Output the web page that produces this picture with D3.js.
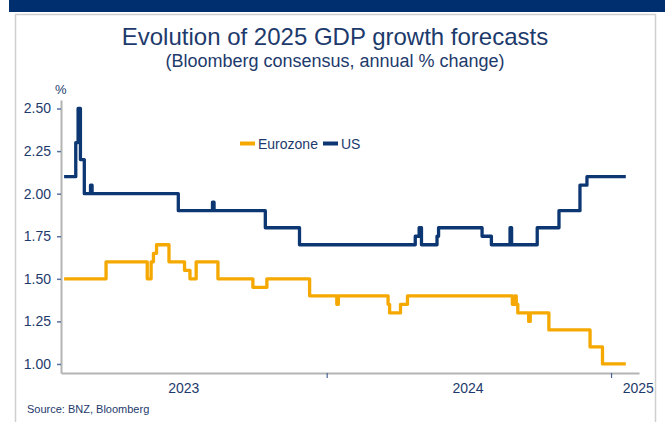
<!DOCTYPE html>
<html>
<head>
<meta charset="utf-8">
<script src="https://cdn.jsdelivr.net/npm/d3@7"></script>
<style>
  html, body { margin: 0; padding: 0; background: #ffffff; }
  svg { display: block; }
  text { font-family: "Liberation Sans", Arial, sans-serif; }
</style>
</head>
<body>
<svg id="chart" width="665" height="422"></svg>
<script>
// Bloomberg consensus forecasts for 2025 GDP growth (%), step changes by date
const usDates = ["2023-01-28","2023-02-12","2023-02-15","2023-02-18","2023-02-23","2023-03-03","2023-03-05",
  "2023-06-24","2023-08-07","2023-08-09","2023-10-14","2023-11-27","2024-04-24","2024-04-29","2024-05-02",
  "2024-05-22","2024-05-24","2024-07-19","2024-07-31","2024-08-24","2024-08-26","2024-09-28","2024-10-26",
  "2024-11-22","2024-12-01","2025-01-20"];
const usValues = [2.10, 2.30, 2.50, 2.20, 2.00, 2.05, 2.00,
  1.90, 1.95, 1.90, 1.80, 1.70, 1.75, 1.80, 1.70,
  1.75, 1.80, 1.75, 1.70, 1.80, 1.70, 1.80, 1.90,
  2.05, 2.10, 2.10];

const euDates = ["2023-01-28","2023-03-23","2023-05-15","2023-05-20","2023-05-23","2023-05-27","2023-06-12",
  "2023-07-02","2023-07-09","2023-07-17","2023-08-14","2023-09-28","2023-10-16","2023-12-10","2024-01-14",
  "2024-01-16","2024-03-20","2024-03-22","2024-04-05","2024-04-14","2024-08-27","2024-08-30","2024-09-01",
  "2024-09-03","2024-09-17","2024-09-19","2024-10-13","2024-12-05","2024-12-21","2025-01-20"];
const euValues = [1.50, 1.60, 1.50, 1.60, 1.65, 1.70, 1.60,
  1.55, 1.50, 1.60, 1.50, 1.45, 1.50, 1.40, 1.35,
  1.40, 1.35, 1.30, 1.35, 1.40, 1.35, 1.40, 1.35,
  1.30, 1.25, 1.30, 1.20, 1.10, 1.00, 1.00];

const yTicks = [1.00, 1.25, 1.50, 1.75, 2.00, 2.25, 2.50];
const yearTicks = ["2024-01-01", "2025-01-01"];
const yearLabels = ["2023", "2024", "2025"];
const yearLabelDates = ["2023-07-01", "2024-07-01", "2025-02-05"];
const seriesNames = ["Eurozone", "US"];

const parse = d3.timeParse("%Y-%m-%d");
const navy = "#0c3773";
const orange = "#f5a800";
const textBlue = "#1d3a6c";

const svg = d3.select("#chart");

// page frame: dark header band and the white card below it
svg.append("rect").attr("x", 9).attr("y", 0).attr("width", 656).attr("height", 12).attr("fill", "#002f6f");
svg.append("path")
  .attr("d", "M15.5,422 V14.5 H655.5 V422")
  .attr("fill", "none").attr("stroke", "#cfcfcf").attr("stroke-width", 1.5);

// titles
svg.append("text").attr("x", 335).attr("y", 45).attr("text-anchor", "middle")
  .attr("font-size", 24).attr("fill", textBlue).text("Evolution of 2025 GDP growth forecasts");
svg.append("text").attr("x", 335).attr("y", 67).attr("text-anchor", "middle")
  .attr("font-size", 18).attr("fill", textBlue).text("(Bloomberg consensus, annual % change)");

const x = d3.scaleTime().domain([parse("2023-01-24"), parse("2025-02-06")]).range([61, 639]);
const y = d3.scaleLinear().domain([0.947, 2.55]).range([373, 100]);

// y axis
const yAxis = svg.append("g").attr("transform", "translate(61,0)")
  .call(d3.axisLeft(y).tickValues(yTicks).tickFormat(d3.format(".2f"))
    .tickSize(4).tickSizeOuter(0).tickPadding(6));
yAxis.select(".domain").attr("stroke", "#b4b4b4").attr("stroke-width", 2);
yAxis.selectAll(".tick line").attr("stroke", "#5a73a0").attr("stroke-width", 1.5);
yAxis.selectAll(".tick text").attr("font-size", 14).attr("fill", textBlue)
  .attr("font-family", "Liberation Sans, Arial, sans-serif");

svg.append("text").attr("x", 55).attr("y", 94).attr("font-size", 13).attr("fill", textBlue).text("%");

// x axis with year boundary ticks and mid-year labels
const xAxis = svg.append("g").attr("transform", "translate(0,373)")
  .call(d3.axisBottom(x).tickValues(yearTicks.map(parse)).tickFormat("").tickSize(5).tickSizeOuter(0));
xAxis.select(".domain").attr("stroke", "#b4b4b4").attr("stroke-width", 2);
xAxis.selectAll(".tick line").attr("stroke", "#4a6595").attr("stroke-width", 1.2);

svg.selectAll(".yearLabel").data(yearLabels).join("text")
  .attr("class", "yearLabel")
  .attr("x", (d, i) => x(parse(yearLabelDates[i])))
  .attr("y", 393).attr("text-anchor", "middle")
  .attr("font-size", 14).attr("fill", textBlue).text(d => d);

// series lines
const line = d3.line().curve(d3.curveStepAfter).x(d => x(d[0])).y(d => y(d[1]));
const euData = euDates.map((d, i) => [parse(d), euValues[i]]);
const usData = usDates.map((d, i) => [parse(d), usValues[i]]);

svg.append("path").datum(euData).attr("d", line)
  .attr("fill", "none").attr("stroke", orange).attr("stroke-width", 3.3).attr("stroke-linejoin", "round");
svg.append("path").datum(usData).attr("d", line)
  .attr("fill", "none").attr("stroke", navy).attr("stroke-width", 3.3).attr("stroke-linejoin", "round");

// legend
const legendColors = [orange, navy];
const legendX = [240, 323];
seriesNames.forEach((name, i) => {
  svg.append("line").attr("x1", legendX[i]).attr("x2", legendX[i] + 15)
    .attr("y1", 143.5).attr("y2", 143.5).attr("stroke", legendColors[i]).attr("stroke-width", 4);
  svg.append("text").attr("x", legendX[i] + 18).attr("y", 148.5)
    .attr("font-size", 14).attr("fill", textBlue).text(name);
});

// source note
svg.append("text").attr("x", 27).attr("y", 413).attr("font-size", 11).attr("fill", textBlue)
  .text("Source: BNZ, Bloomberg");
</script>
</body>
</html>
